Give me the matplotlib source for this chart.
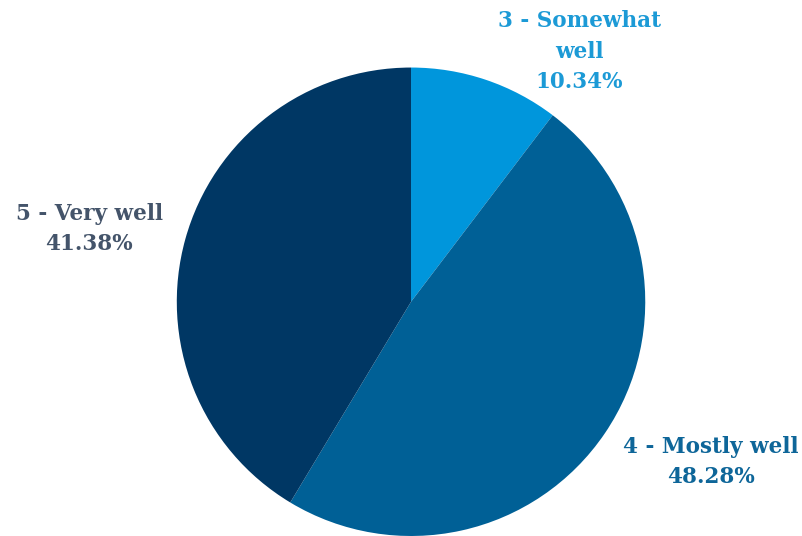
import matplotlib
matplotlib.use("Agg")
import matplotlib.pyplot as plt

categories = ["3 - Somewhat\nwell", "4 - Mostly well", "5 - Very well"]
shares = [10.34, 48.28, 41.38]
slice_colors = ["#0096DC", "#006096", "#003764"]
label_colors = ["#1C9AD6", "#0E6699", "#44546A"]
# label placement (data units, pie radius = 1)
label_pos = [(0.72, 1.068), (1.281, -0.685), (-1.374, 0.311)]

fig = plt.figure(figsize=(8.02, 5.36), dpi=100)
ax = fig.add_axes([0.2195, 0.0, 0.586, 0.874])
ax.pie(shares, colors=slice_colors, startangle=90, counterclock=False,
       radius=1, wedgeprops=dict(linewidth=0))
ax.set_xlim(-1, 1)
ax.set_ylim(-1, 1)
ax.set_aspect("equal")
ax.axis("off")

for name, val, col, (x, y) in zip(categories, shares, label_colors, label_pos):
    ax.text(x, y, f"{name}\n{val:.2f}%", color=col, ha="center", va="center",
            fontsize=15.5, fontweight="heavy", family="DejaVu Serif",
            linespacing=1.5, clip_on=False)

fig.savefig("out.png", dpi=100)
